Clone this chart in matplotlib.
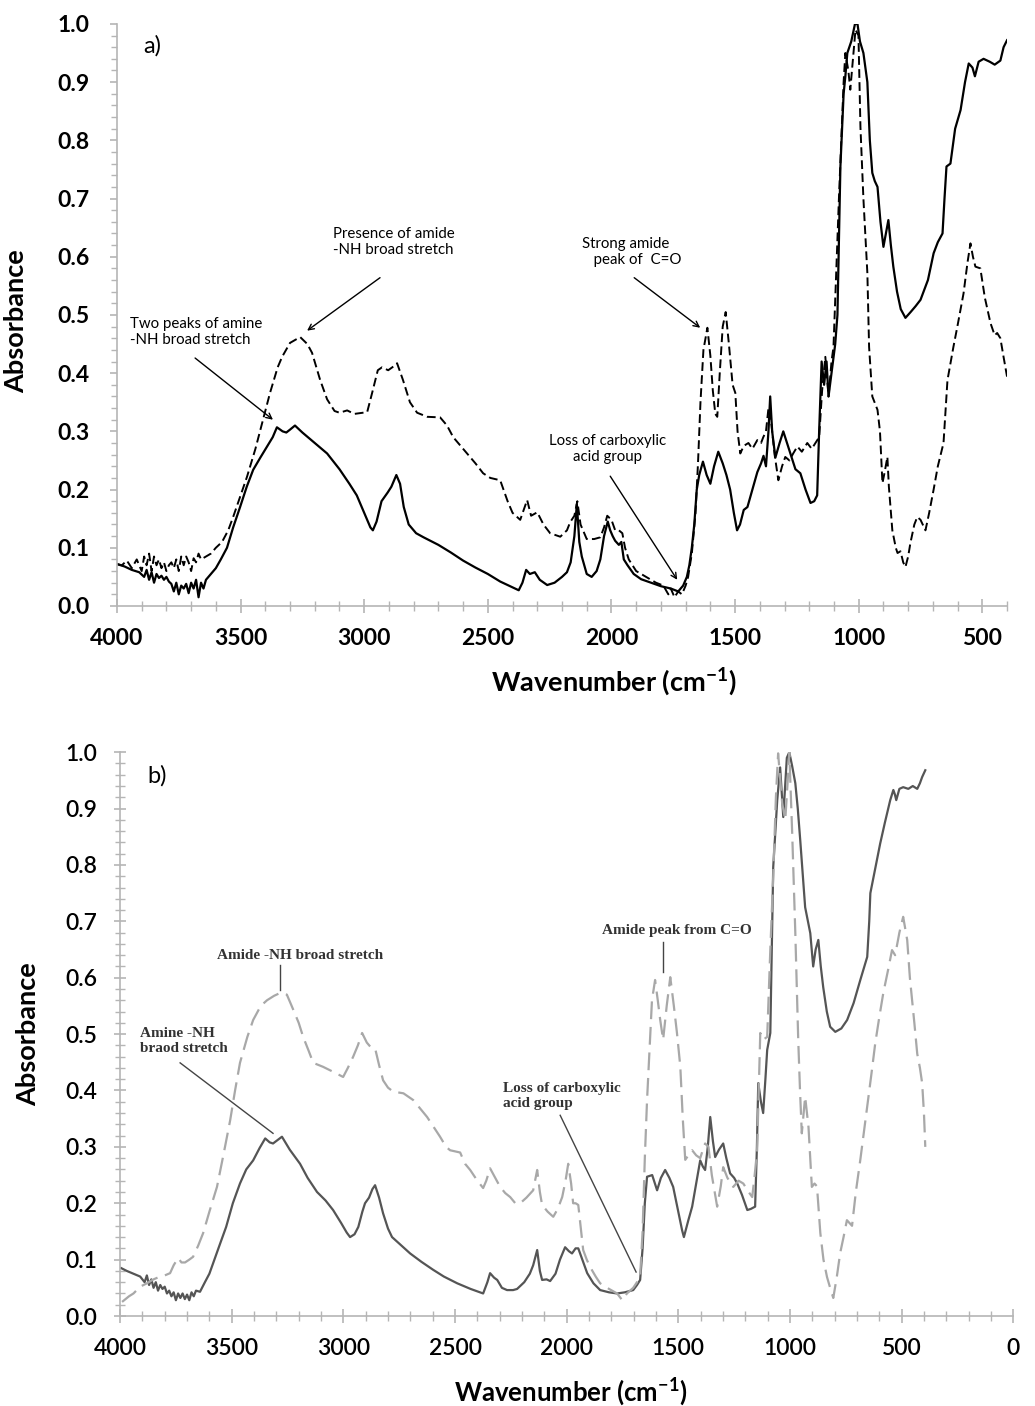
import numpy as np
import matplotlib
matplotlib.use("Agg")
import matplotlib.pyplot as plt
from matplotlib.ticker import MultipleLocator

# panel a) - (wavenumber cm-1, absorbance)
a_solid = [(4000,0.072),(3970,0.068),(3940,0.062),(3910,0.058),(3890,0.05),(3880,0.062),(3870,0.045),(3860,0.058),(3850,0.04),(3840,0.055),(3830,0.048),(3820,0.052),(3810,0.045),(3800,0.05),(3790,0.042),(3780,0.038),(3770,0.025),(3760,0.04),(3750,0.02),(3740,0.035),(3730,0.03),(3720,0.038),(3710,0.022),(3700,0.04),(3690,0.03),(3680,0.045),(3670,0.015),(3660,0.04),(3650,0.03),(3640,0.045),(3620,0.055),(3600,0.065),(3580,0.08),(3555,0.10),(3530,0.135),(3502,0.17),(3475,0.205),(3449,0.234),(3420,0.255),(3393,0.274),(3370,0.29),(3353,0.307),(3330,0.3),(3315,0.298),(3300,0.303),(3280,0.31),(3250,0.298),(3200,0.28),(3150,0.262),(3100,0.235),(3060,0.21),(3030,0.19),(3000,0.16),(2975,0.135),(2965,0.13),(2950,0.145),(2930,0.18),(2905,0.195),(2890,0.205),(2870,0.225),(2855,0.21),(2840,0.17),(2820,0.14),(2790,0.125),(2760,0.118),(2700,0.105),(2650,0.092),(2600,0.078),(2550,0.066),(2500,0.055),(2450,0.042),(2400,0.032),(2375,0.027),(2360,0.04),(2345,0.062),(2330,0.055),(2310,0.058),(2290,0.045),(2260,0.036),(2230,0.04),(2200,0.05),(2180,0.058),(2165,0.075),(2150,0.12),(2140,0.175),(2130,0.11),(2120,0.085),(2100,0.055),(2080,0.05),(2060,0.06),(2045,0.08),(2030,0.12),(2015,0.145),(2005,0.13),(1995,0.12),(1985,0.112),(1970,0.105),(1960,0.11),(1950,0.08),(1935,0.07),(1910,0.055),(1880,0.046),(1840,0.04),(1800,0.034),(1760,0.03),(1730,0.025),(1710,0.035),(1695,0.05),(1685,0.07),(1675,0.1),(1665,0.14),(1655,0.2),(1645,0.225),(1630,0.248),(1615,0.225),(1600,0.21),(1585,0.24),(1568,0.265),(1550,0.245),(1535,0.225),(1520,0.2),(1505,0.16),(1492,0.13),(1480,0.14),(1465,0.165),(1450,0.17),(1430,0.2),(1410,0.23),(1395,0.245),(1385,0.258),(1375,0.24),(1365,0.3),(1358,0.36),(1350,0.3),(1337,0.255),(1320,0.28),(1305,0.3),(1290,0.28),(1275,0.26),(1256,0.235),(1236,0.228),(1215,0.2),(1195,0.177),(1180,0.18),(1168,0.19),(1160,0.3),(1150,0.42),(1140,0.38),(1130,0.42),(1122,0.36),(1110,0.4),(1095,0.45),(1086,0.5),(1074,0.755),(1061,0.88),(1054,0.91),(1046,0.95),(1030,0.97),(1015,1.0),(1005,1.0),(995,0.97),(981,0.95),(965,0.9),(955,0.8),(945,0.744),(935,0.73),(924,0.72),(912,0.66),(900,0.617),(890,0.64),(880,0.663),(870,0.62),(860,0.583),(845,0.54),(830,0.51),(811,0.495),(790,0.505),(770,0.515),(750,0.526),(720,0.56),(697,0.606),(680,0.625),(661,0.64),(653,0.7),(645,0.755),(629,0.76),(610,0.82),(588,0.852),(570,0.9),(555,0.932),(540,0.925),(530,0.91),(515,0.935),(495,0.94),(470,0.935),(450,0.93),(427,0.937),(414,0.96),(400,0.972)]

a_dashed = [(4000,0.072),(3980,0.07),(3960,0.078),(3940,0.065),(3920,0.08),(3900,0.06),(3890,0.085),(3880,0.07),(3870,0.09),(3860,0.06),(3850,0.085),(3840,0.07),(3830,0.08),(3820,0.065),(3810,0.075),(3800,0.06),(3790,0.07),(3780,0.075),(3770,0.065),(3760,0.08),(3750,0.06),(3740,0.085),(3730,0.07),(3720,0.085),(3710,0.075),(3700,0.06),(3690,0.082),(3680,0.075),(3670,0.09),(3660,0.08),(3640,0.085),(3620,0.09),(3600,0.1),(3575,0.11),(3550,0.13),(3530,0.153),(3500,0.19),(3474,0.222),(3440,0.27),(3413,0.314),(3381,0.366),(3350,0.41),(3332,0.428),(3300,0.452),(3259,0.462),(3230,0.45),(3211,0.435),(3178,0.388),(3150,0.355),(3120,0.335),(3100,0.332),(3069,0.336),(3040,0.33),(2988,0.333),(2968,0.366),(2945,0.405),(2928,0.41),(2903,0.405),(2880,0.412),(2867,0.417),(2843,0.388),(2815,0.35),(2786,0.332),(2745,0.325),(2693,0.324),(2665,0.31),(2640,0.29),(2584,0.262),(2550,0.245),(2519,0.228),(2490,0.22),(2450,0.216),(2420,0.18),(2400,0.16),(2369,0.148),(2355,0.165),(2341,0.182),(2325,0.155),(2300,0.161),(2275,0.14),(2248,0.125),(2207,0.119),(2180,0.13),(2167,0.144),(2150,0.155),(2138,0.18),(2125,0.14),(2100,0.115),(2070,0.115),(2045,0.118),(2030,0.135),(2017,0.155),(2000,0.148),(1985,0.13),(1970,0.13),(1956,0.125),(1945,0.1),(1930,0.08),(1900,0.06),(1860,0.05),(1820,0.04),(1790,0.035),(1770,0.02),(1760,0.03),(1745,0.015),(1730,0.025),(1715,0.02),(1700,0.035),(1690,0.05),(1675,0.09),(1660,0.16),(1650,0.245),(1640,0.35),(1628,0.44),(1612,0.478),(1600,0.43),(1590,0.37),(1580,0.33),(1572,0.325),(1562,0.4),(1550,0.48),(1538,0.505),(1525,0.45),(1510,0.38),(1499,0.366),(1490,0.3),(1479,0.262),(1465,0.275),(1446,0.28),(1430,0.27),(1410,0.285),(1395,0.28),(1386,0.29),(1375,0.3),(1365,0.34),(1355,0.32),(1340,0.26),(1325,0.216),(1310,0.24),(1297,0.256),(1280,0.25),(1265,0.262),(1248,0.274),(1230,0.265),(1208,0.28),(1190,0.27),(1175,0.28),(1160,0.29),(1148,0.37),(1135,0.428),(1122,0.36),(1110,0.42),(1102,0.445),(1080,0.7),(1061,0.9),(1054,0.95),(1042,0.92),(1034,0.887),(1013,0.99),(1001,0.98),(993,0.823),(981,0.70),(965,0.572),(958,0.445),(945,0.36),(924,0.337),(914,0.3),(904,0.211),(895,0.23),(884,0.256),(878,0.205),(864,0.13),(850,0.1),(843,0.091),(831,0.094),(820,0.075),(811,0.067),(800,0.085),(791,0.108),(775,0.14),(763,0.153),(750,0.148),(730,0.13),(715,0.16),(697,0.2),(680,0.24),(657,0.28),(641,0.388),(617,0.445),(601,0.48),(576,0.537),(560,0.59),(548,0.623),(538,0.6),(528,0.583),(508,0.58),(490,0.53),(467,0.486),(450,0.465),(440,0.469),(427,0.46),(415,0.43),(400,0.394)]

# panel b)
b_solid = [(3995,0.085),(3970,0.08),(3940,0.075),(3910,0.07),(3890,0.06),(3880,0.072),(3870,0.055),(3860,0.065),(3850,0.05),(3840,0.06),(3830,0.045),(3820,0.055),(3810,0.048),(3800,0.052),(3790,0.04),(3780,0.045),(3770,0.035),(3760,0.042),(3750,0.028),(3740,0.04),(3730,0.032),(3720,0.04),(3710,0.03),(3700,0.038),(3690,0.028),(3680,0.042),(3670,0.035),(3660,0.045),(3642,0.043),(3620,0.06),(3600,0.075),(3583,0.094),(3555,0.125),(3525,0.158),(3495,0.2),(3463,0.235),(3435,0.26),(3404,0.276),(3375,0.298),(3350,0.315),(3330,0.308),(3315,0.306),(3295,0.312),(3275,0.318),(3240,0.295),(3194,0.27),(3160,0.245),(3118,0.22),(3080,0.205),(3046,0.188),(3010,0.165),(2985,0.148),(2970,0.14),(2950,0.145),(2933,0.158),(2915,0.185),(2903,0.2),(2885,0.21),(2870,0.225),(2858,0.232),(2840,0.21),(2822,0.182),(2800,0.155),(2782,0.14),(2740,0.125),(2701,0.111),(2650,0.096),(2598,0.082),(2550,0.07),(2490,0.058),(2430,0.048),(2374,0.04),(2355,0.06),(2343,0.076),(2325,0.068),(2311,0.064),(2290,0.05),(2267,0.046),(2240,0.046),(2222,0.048),(2190,0.06),(2165,0.075),(2150,0.09),(2132,0.117),(2120,0.08),(2110,0.064),(2090,0.065),(2074,0.062),(2050,0.075),(2030,0.1),(2007,0.122),(1990,0.115),(1976,0.111),(1960,0.12),(1948,0.12),(1930,0.1),(1908,0.076),(1880,0.058),(1850,0.046),(1810,0.042),(1774,0.04),(1740,0.042),(1702,0.046),(1685,0.055),(1671,0.064),(1660,0.12),(1650,0.2),(1640,0.247),(1617,0.25),(1595,0.223),(1578,0.245),(1559,0.259),(1540,0.245),(1523,0.229),(1500,0.185),(1483,0.152),(1475,0.14),(1455,0.17),(1438,0.194),(1420,0.235),(1402,0.276),(1390,0.265),(1380,0.259),(1368,0.3),(1357,0.353),(1345,0.31),(1335,0.282),(1318,0.295),(1299,0.306),(1285,0.28),(1268,0.253),(1250,0.245),(1236,0.235),(1215,0.215),(1191,0.188),(1175,0.19),(1156,0.194),(1148,0.3),(1142,0.413),(1130,0.38),(1120,0.36),(1110,0.42),(1102,0.472),(1088,0.502),(1075,0.796),(1057,0.915),(1044,0.973),(1030,0.885),(1014,0.99),(1003,1.0),(990,0.975),(976,0.945),(965,0.9),(954,0.844),(932,0.725),(909,0.679),(896,0.62),(885,0.65),(873,0.667),(862,0.62),(851,0.583),(835,0.54),(820,0.513),(797,0.504),(770,0.51),(744,0.525),(715,0.555),(685,0.596),(654,0.637),(645,0.7),(640,0.75),(620,0.79),(596,0.838),(575,0.875),(551,0.915),(537,0.933),(530,0.925),(524,0.915),(510,0.935),(493,0.938),(470,0.935),(450,0.94),(430,0.935),(418,0.945),(408,0.956),(394,0.968)]

b_dashed = [(3991,0.025),(3960,0.035),(3940,0.04),(3910,0.052),(3880,0.058),(3850,0.065),(3821,0.07),(3800,0.072),(3776,0.076),(3760,0.09),(3740,0.103),(3725,0.095),(3709,0.095),(3690,0.1),(3673,0.105),(3650,0.125),(3628,0.147),(3600,0.185),(3566,0.229),(3535,0.29),(3507,0.347),(3485,0.4),(3463,0.449),(3430,0.495),(3404,0.525),(3370,0.55),(3342,0.56),(3310,0.568),(3283,0.573),(3253,0.57),(3224,0.543),(3200,0.52),(3180,0.495),(3155,0.47),(3135,0.449),(3091,0.442),(3040,0.432),(3001,0.424),(2980,0.44),(2956,0.46),(2935,0.48),(2916,0.502),(2895,0.485),(2880,0.478),(2858,0.475),(2840,0.445),(2822,0.418),(2800,0.405),(2777,0.398),(2731,0.395),(2687,0.383),(2660,0.37),(2625,0.353),(2595,0.335),(2567,0.318),(2540,0.3),(2522,0.294),(2477,0.29),(2455,0.27),(2432,0.259),(2400,0.24),(2374,0.227),(2360,0.24),(2343,0.262),(2320,0.245),(2298,0.229),(2275,0.218),(2253,0.211),(2230,0.2),(2208,0.2),(2180,0.21),(2150,0.223),(2132,0.259),(2120,0.22),(2110,0.197),(2085,0.185),(2060,0.176),(2040,0.19),(2020,0.211),(2005,0.24),(1993,0.27),(1980,0.235),(1971,0.2),(1960,0.2),(1948,0.197),(1935,0.15),(1926,0.117),(1910,0.1),(1895,0.087),(1870,0.07),(1850,0.058),(1810,0.048),(1774,0.04),(1751,0.028),(1730,0.04),(1702,0.05),(1685,0.06),(1671,0.07),(1660,0.15),(1650,0.28),(1640,0.383),(1628,0.48),(1618,0.56),(1604,0.596),(1592,0.56),(1581,0.525),(1568,0.49),(1552,0.55),(1536,0.601),(1520,0.55),(1506,0.502),(1491,0.442),(1480,0.35),(1469,0.277),(1455,0.285),(1438,0.294),(1420,0.285),(1402,0.28),(1390,0.295),(1380,0.306),(1365,0.3),(1350,0.25),(1326,0.194),(1310,0.23),(1299,0.264),(1280,0.245),(1254,0.229),(1230,0.24),(1209,0.235),(1185,0.22),(1169,0.211),(1158,0.25),(1147,0.294),(1133,0.502),(1120,0.49),(1102,0.495),(1088,0.65),(1075,0.78),(1063,0.92),(1053,0.998),(1035,0.91),(1021,0.88),(1010,0.95),(1003,1.0),(990,0.856),(976,0.679),(963,0.49),(955,0.4),(947,0.324),(932,0.389),(917,0.335),(902,0.229),(890,0.235),(879,0.23),(864,0.147),(850,0.1),(834,0.069),(820,0.05),(806,0.032),(790,0.07),(775,0.112),(760,0.14),(745,0.17),(722,0.16),(705,0.22),(685,0.277),(654,0.371),(635,0.43),(618,0.484),(600,0.53),(582,0.573),(560,0.615),(543,0.649),(529,0.64),(510,0.68),(493,0.708),(475,0.667),(463,0.6),(453,0.56),(443,0.52),(430,0.465),(418,0.44),(408,0.413),(400,0.36),(394,0.3)]

a_xticks = [4000, 3500, 3000, 2500, 2000, 1500, 1000, 500]
b_xticks = [4000, 3500, 3000, 2500, 2000, 1500, 1000, 500, 0]
yticks = [0.0, 0.1, 0.2, 0.3, 0.4, 0.5, 0.6, 0.7, 0.8, 0.9, 1.0]

SANS = "Lato"
SERIF = "Liberation Serif"
TICKGRAY = "#b5b5b5"


def xy(pairs):
    arr = np.array(pairs)
    return arr[:, 0], arr[:, 1]


def style_axes(ax, xlim, xticks, weight, in_out_y, label_size):
    ax.set_xlim(*xlim)
    ax.set_ylim(0, 1.0)
    ax.set_xticks(xticks)
    ax.set_xticklabels([str(t) for t in xticks])
    ax.set_yticks(yticks)
    ax.set_yticklabels([f"{t:.1f}" for t in yticks])
    ax.xaxis.set_minor_locator(MultipleLocator(100))
    ax.yaxis.set_minor_locator(MultipleLocator(0.02))
    for s in ["top", "right"]:
        ax.spines[s].set_visible(False)
    for s in ["left", "bottom"]:
        ax.spines[s].set_color(TICKGRAY)
        ax.spines[s].set_linewidth(1.2)
    ax.tick_params(axis="x", which="major", direction="inout", length=10, width=1.2,
                   color=TICKGRAY, pad=11, labelsize=16.5)
    ax.tick_params(axis="x", which="minor", direction="inout", length=7, width=1.0, color=TICKGRAY)
    ydir = "inout" if in_out_y else "out"
    ax.tick_params(axis="y", which="major", direction=ydir, length=9 if in_out_y else 5, width=1.2,
                   color=TICKGRAY, pad=15 if not in_out_y else 12, labelsize=16.5)
    ax.tick_params(axis="y", which="minor", direction=ydir, length=7 if in_out_y else 4, width=1.0,
                   color=TICKGRAY)
    for lab in ax.get_xticklabels() + ax.get_yticklabels():
        lab.set_fontfamily(SANS)
        lab.set_fontweight(weight)
    ax.set_ylabel("Absorbance", fontfamily=SANS, fontweight="bold", fontsize=19.5)
    ax.set_xlabel("Wavenumber (cm$^{\\mathregular{-1}}$)", fontfamily=SANS, fontweight="bold",
                  fontsize=label_size)


fig = plt.figure(figsize=(10.35, 14.06), dpi=100)
ax1 = fig.add_axes([0.113, 0.569, 0.860, 0.414])
ax2 = fig.add_axes([0.116, 0.064, 0.863, 0.401])

# ---- panel a
x, y = xy(a_solid)
ax1.plot(x, y, color="black", lw=1.6)
x, y = xy(a_dashed)
ax1.plot(x, y, color="black", lw=1.4, dashes=(4.5, 2.2))
style_axes(ax1, (4000, 400), a_xticks, "bold", False, 19.5)
ax1.yaxis.set_label_coords(-0.1, 0.49)
ax1.xaxis.set_label_coords(0.558, -0.102)

ann = dict(fontfamily=SANS, fontsize=10.8, color="black")
arrow = dict(arrowstyle="->", color="black", lw=1.0, shrinkA=0, shrinkB=0)
ax1.text(3895, 0.962, "a)", fontfamily=SANS, fontsize=17, va="center")
ax1.text(3126, 0.625, "Presence of amide\n-NH broad stretch", va="center", ha="left", **ann)
ax1.annotate("", xy=(3231, 0.473), xytext=(2936, 0.564), arrowprops=arrow)
ax1.text(3947, 0.471, "Two peaks of amine\n-NH broad stretch", va="center", ha="left", **ann)
ax1.annotate("", xy=(3369, 0.32), xytext=(3684, 0.426), arrowprops=arrow)
ax1.text(2118, 0.608, "Strong amide\n   peak of  C=O", va="center", ha="left", **ann)
ax1.annotate("", xy=(1641, 0.478), xytext=(1908, 0.564), arrowprops=arrow)
ax1.text(2017, 0.27, "Loss of carboxylic\nacid group", va="center", ha="center", multialignment="center", **ann)
ax1.annotate("", xy=(1734, 0.045), xytext=(2005, 0.223), arrowprops=arrow)

# ---- panel b
x, y = xy(b_solid)
ax2.plot(x, y, color="#555555", lw=1.6)
x, y = xy(b_dashed)
ax2.plot(x, y, color="#a8a8a8", lw=1.6, dashes=(8, 3.5))
style_axes(ax2, (4000, 0), b_xticks, "semibold", True, 18.5)
ax2.yaxis.set_label_coords(-0.09, 0.5)
ax2.xaxis.set_label_coords(0.504, -0.105)

bnn = dict(fontfamily=SERIF, fontsize=11, fontweight="bold", color="#333333")
ln = dict(color="#444444", lw=1.0)
ax2.text(3879, 0.959, "b)", fontfamily=SANS, fontsize=17, va="center")
ax2.text(3194, 0.64, "Amide -NH broad stretch", va="center", ha="center", **bnn)
ax2.plot([3283, 3283], [0.622, 0.578], **ln)
ax2.text(3910, 0.488, "Amine -NH\nbraod stretch", va="center", ha="left", **bnn)
ax2.plot([3731, 3315], [0.449, 0.324], **ln)
ax2.text(2284, 0.39, "Loss of carboxylic\nacid group", va="center", ha="left", **bnn)
ax2.plot([2029, 1689], [0.356, 0.078], **ln)
ax2.text(1505, 0.684, "Amide peak from C=O", va="center", ha="center", **bnn)
ax2.plot([1568, 1568], [0.663, 0.61], **ln)

fig.savefig("out.png", dpi=100)
